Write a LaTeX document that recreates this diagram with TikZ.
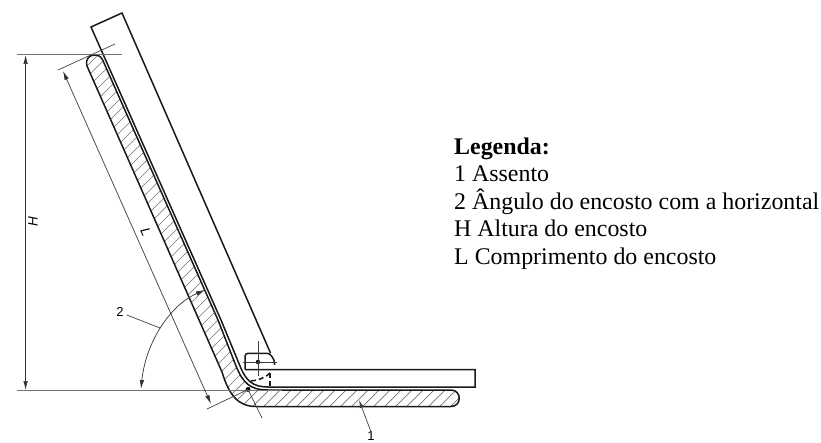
\documentclass[tikz,border=0pt]{standalone}
\usepackage{fontspec}
\setmainfont{Liberation Serif}
\setsansfont{Liberation Sans}
\usetikzlibrary{arrows.meta}
\tikzset{
 heavy/.style={line width=1.5pt,black!90},
 thin line/.style={line width=0.7pt,black!75},
 gray line/.style={line width=1pt,black!55},
 hatch/.style={line width=0.7pt,black!55},
 dim/.style={line width=0.7pt,black!80,{Latex[length=9pt,width=4.5pt]}-{Latex[length=9pt,width=4.5pt]}},
 lead/.style={line width=0.7pt,black!75,-{Latex[length=8pt,width=4pt]}},
 legend/.style={anchor=base west,inner sep=0pt,font=\fontsize{23.9pt}{27.5pt}\selectfont},
 tag/.style={inner sep=0pt,font=\sffamily\fontsize{13pt}{15pt}\selectfont},
 dimtag/.style={inner sep=0pt,font=\sffamily\itshape\fontsize{13.5pt}{15pt}\selectfont},
}
\begin{document}
\begin{tikzpicture}[x=1pt,y=-1pt]
\useasboundingbox (0,0) rectangle (821,443);
% hatched pad
\begin{scope}
\clip (87,66) .. controls (85,58) and (90,55) .. (95,55) .. controls (100,55) and (102,58) .. (104,63)
 -- (218,320) -- (236,366) .. controls (243,383) and (250,390) .. (268,390)
 -- (451,390) .. controls (462,390) and (462,406.5) .. (451,406.5)
 -- (256,406.5) .. controls (238,406.5) and (229,395) .. (222,372) -- cycle;
\foreach \k in {0,...,90}{
 \draw[hatch] ({-300+11*\k},420) -- ({-300+11*\k+400},20);
}
\end{scope}
\draw[heavy] (87,66) .. controls (85,58) and (90,55) .. (95,55) .. controls (100,55) and (102,58) .. (104,63)
 -- (218,320) -- (236,366) .. controls (243,383) and (250,390) .. (268,390)
 -- (451,390) .. controls (462,390) and (462,406.5) .. (451,406.5)
 -- (256,406.5) .. controls (238,406.5) and (229,395) .. (222,372) -- cycle;
% backrest and seat
\draw[heavy] (270.5,353) -- (122,13) -- (91,27) -- (221,320) -- (240,366)
 .. controls (246,381) and (253,387) .. (268,387) -- (475,387) -- (475,369.5) -- (245,369.5);
\draw[heavy,rounded corners=3pt] (245,369.5) -- (245,353.3) -- (270,353.3) -- (274,360);
\draw[heavy,dash pattern=on 5pt off 3pt] (274,360) -- (275,368);
\draw[heavy,dash pattern=on 5pt off 3pt] (270,373) .. controls (266,377) and (260,380) .. (251,381);
\draw[heavy,dash pattern=on 5pt off 3pt] (270,373) -- (270,387);
% centre marks
\coordinate (c1) at (258,362);
\coordinate (c2) at (248,389.5);
\fill (c1) circle (2.2pt);
\fill (c2) circle (2.4pt);
\coordinate (c1t) at (258,341);
\coordinate (c1b) at (258,376);
\coordinate (c1l) at (243,362);
\coordinate (c1r) at (277,362);
\draw[thin line] (c1t) -- (c1b);
\draw[thin line] (c1l) -- (c1r);
\coordinate (c2d) at (262,418);
\draw[thin line] (c2) -- (c2d);
% reference lines
\coordinate (h1a) at (17,55);
\coordinate (h1b) at (122,55);
\coordinate (h2a) at (17,390);
\coordinate (h2b) at (282,390);
\draw[gray line] (h1a) -- (h1b);
\draw[gray line] (h2a) -- (h2b);
\coordinate (e1a) at (58,70);
\coordinate (e1b) at (115,44);
\coordinate (e2a) at (207,409);
\draw[thin line] (e1a) -- (e1b);
\draw[thin line] (e2a) -- (c2);
% dimensions
\coordinate (Ha) at (25.6,55);
\coordinate (Hb) at (25.6,390);
\draw[dim] (Ha) -- (Hb);
\coordinate (La) at (63,71);
\coordinate (Lb) at (211,404);
\draw[dim] (La) -- (Lb);
\node[dimtag,rotate=90] (H) at (33,222) {H};
\node[dimtag,rotate=-66] (L) at (146,232) {L};
% angle
\coordinate (a1) at (205,290);
\coordinate (a2) at (141,389);
\draw[dim] (a1) .. controls (172,304) and (146,340) .. (a2);
\node[tag] (n2) at (120,312) {2};
\coordinate (j2) at (160,328);
\draw[thin line] (n2.east) ++(3,3) -- (j2);
\node[tag] (n1) at (371,436.5) {1};
\coordinate (t1) at (359,400);
\draw[lead] (n1.north) -- (t1);
% legend
\node[legend] (lg0) at (454,155) {\textbf{Legenda:}};
\node[legend] (lg1) at (454,182) {1 Assento};
\node[legend] (lg2) at (454,209.5) {2 Ângulo do encosto com a horizontal};
\node[legend] (lg3) at (454,237) {H Altura do encosto};
\node[legend] (lg4) at (454,264.5) {L Comprimento do encosto};
\end{tikzpicture}
\end{document}
